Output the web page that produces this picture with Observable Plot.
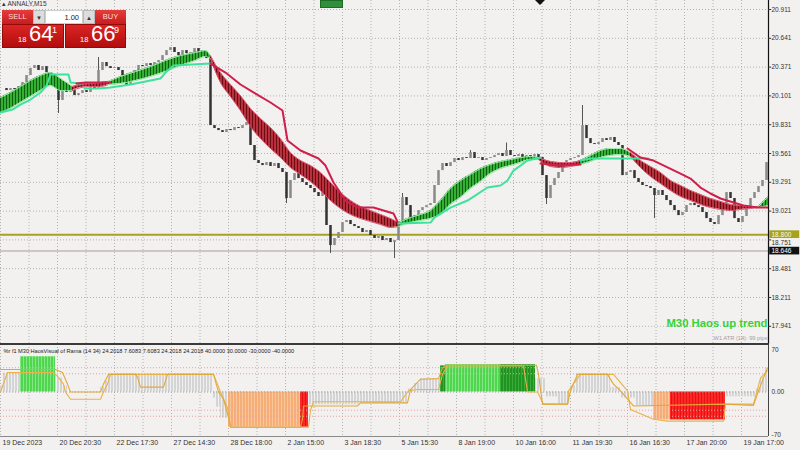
<!DOCTYPE html>
<html><head><meta charset="utf-8">
<script src="https://cdn.jsdelivr.net/npm/d3@7"></script>
<script src="https://cdn.jsdelivr.net/npm/@observablehq/plot@0.6"></script>
<style>
body{margin:0;background:#f3f0f0;font-family:"Liberation Sans",Arial,sans-serif;}
#wrap{position:relative;width:800px;height:450px;overflow:hidden;background:#f3f0f0;}
#main,#osc{position:absolute;left:0;}
#main{top:0}#osc{top:344px}
#sep{position:absolute;left:0;top:343px;width:769px;height:1.5px;background:#3a3a3a;}
#sym{position:absolute;left:2px;top:0px;font-size:6.5px;color:#333;}
#tp{position:absolute;left:2px;top:10px;width:124px;height:38px;}
#tp div,#tp span{position:absolute;box-sizing:border-box;}
.btn{top:0;height:14px;background:linear-gradient(#e53c3c,#c71d1d);color:#ffdcdc;font-size:7.5px;text-align:center;line-height:14px;}
.arr{top:0;height:14px;background:#dcdcdc;color:#333;font-size:6px;text-align:center;line-height:14px;border:1px solid #bbb;}
.inp{top:0;height:14px;background:#fff;color:#222;font-size:7.5px;text-align:right;line-height:14px;padding-right:3px;border:1px solid #ccc;}
.half{top:14px;height:24px;width:61.5px;background:linear-gradient(#dc2424,#b20e0e);border:1px solid #930a0a;}
.sm{font-size:7.5px;color:#fff;line-height:1;top:26px;}
.big{font-size:22px;color:#fff;line-height:1;top:13px;}
.sup{font-size:9px;color:#fff;line-height:1;top:16px;}
</style></head><body>
<svg width="0" height="0" style="position:absolute">
<defs>
<pattern id="bandG" width="3" height="10" patternUnits="userSpaceOnUse"><rect width="3" height="10" fill="#35b035"/><rect width="1" height="10" fill="#0e5e12"/></pattern>
<pattern id="bandR" width="3" height="10" patternUnits="userSpaceOnUse"><rect width="3" height="10" fill="#b8303c"/><rect width="1" height="10" fill="#6a0c14"/></pattern>
<pattern id="hGray" width="3" height="10" patternUnits="userSpaceOnUse"><rect width="3" height="10" fill="#d4d4d4"/><rect x="2" width="1" height="10" fill="#f0f0f0"/></pattern>
<pattern id="hGreen" width="3" height="10" patternUnits="userSpaceOnUse"><rect width="3" height="10" fill="#4fd64f"/><rect x="2" width="1" height="10" fill="#86e686"/></pattern>
<pattern id="hDark" width="3" height="10" patternUnits="userSpaceOnUse"><rect width="3" height="10" fill="#1f951f"/><rect x="2" width="1" height="10" fill="#3caa3c"/></pattern>
<pattern id="hOrange" width="3" height="10" patternUnits="userSpaceOnUse"><rect width="3" height="10" fill="#f6ad76"/><rect x="2" width="1" height="10" fill="#f9c59a"/></pattern>
<pattern id="hRed" width="3" height="10" patternUnits="userSpaceOnUse"><rect width="3" height="10" fill="#ff2626"/><rect x="2" width="1" height="10" fill="#e01414"/></pattern>
</defs></svg>
<div id="wrap">
  <div id="main"></div>
  <div id="osc"></div>
  <div id="sep"></div>
  <div id="sym">▴ ANNALY,M15</div>
  <div style="position:absolute;left:320px;top:0;width:23px;height:8px;background:#2f8f3a;border:1px solid #1d6b27;box-sizing:border-box"></div>
  <div style="position:absolute;left:535px;top:0;width:0;height:0;border-left:5px solid transparent;border-right:5px solid transparent;border-top:5px solid #111"></div>
  <div id="tp">
    <div class="btn" style="left:0;width:31px">SELL</div>
    <div class="arr" style="left:31px;width:12px">▼</div>
    <div class="inp" style="left:43px;width:38px">1.00</div>
    <div class="arr" style="left:81px;width:12px">▲</div>
    <div class="btn" style="left:93px;width:31px">BUY</div>
    <div class="half" style="left:0"></div>
    <div class="half" style="left:62.5px"></div>
    <span class="sm" style="left:16px">18</span>
    <span class="big" style="left:27px">64</span>
    <span class="sup" style="left:50px">1</span>
    <span class="sm" style="left:78px">18</span>
    <span class="big" style="left:89px">66</span>
    <span class="sup" style="left:112px">9</span>
  </div>
</div>
<script>
// ---------- DATA ----------
const closes = [
20.170,20.151,20.170,20.161,20.189,20.226,20.292,20.358,20.386,20.339,20.376,20.320,20.292,20.245,20.058,20.170,
20.133,20.151,20.104,20.123,20.151,20.133,20.198,20.170,20.339,20.414,20.376,20.358,20.367,20.339,20.292,20.198,
20.264,20.339,20.386,20.376,20.404,20.386,20.414,20.433,20.479,20.526,20.554,20.508,20.479,20.526,20.498,20.508,
20.545,20.489,20.479,20.451,19.823,19.795,19.776,19.758,19.786,19.776,19.804,19.795,19.823,19.851,19.636,19.495,
19.467,19.448,19.476,19.439,19.467,19.420,19.383,19.139,19.308,19.373,19.326,19.289,19.261,19.233,19.195,19.158,
19.261,18.886,18.698,18.764,18.820,18.914,18.933,18.895,18.876,18.858,18.820,18.839,18.792,18.764,18.783,18.745,
18.764,18.726,18.745,18.914,19.148,19.073,18.933,18.979,19.026,19.054,19.073,19.092,19.261,19.401,19.467,19.439,
19.476,19.514,19.495,19.523,19.514,19.570,19.514,19.523,19.495,19.514,19.523,19.542,19.561,19.533,19.589,19.542,
19.533,19.551,19.523,19.542,19.533,19.551,19.523,19.354,19.139,19.261,19.326,19.383,19.476,19.495,19.514,19.523,
19.542,19.823,19.701,19.654,19.645,19.664,19.701,19.683,19.711,19.664,19.636,19.354,19.383,19.401,19.326,19.289,
19.261,19.251,19.233,19.167,19.214,19.167,19.120,19.073,19.026,18.979,19.008,19.073,19.092,19.073,19.054,19.008,
18.951,18.914,18.895,18.979,19.073,19.195,19.139,18.951,18.914,18.970,19.045,19.139,19.195,19.251,19.308,19.476];

const wickBar  = [14,24,71,82,98,100,117,126,136,145,155,163];
const wickLow  = [19.936,20.170,19.092,18.623,18.576,18.914,19.514,19.533,19.083,19.542,19.354,18.951];
const wickHigh = [20.245,20.461,19.383,18.886,18.745,19.186,19.589,19.659,19.354,20.011,19.636,19.233];

const bandSeg  = [0,0,0,0,0,0,0,0, 1,1,1,1,1, 2,2,2,2,2,2,2,2,2, 3,3,3,3,3,3,3,3,3,3,3,3,3,3,3,3,3,3,3,3, 4,4,4,4,4,4,4,4,4,4,4,4,4,4,4, 5,5,5,5,5, 6,6,6,6,6,6, 7,7,7,7,7,7,7,7,7,7,7,7,7,7, 8,8,8];
const bandUp   = [true,false,true,false,true,false,true,false,true];
const bandBar  = [0,2.5,5,7.5,10,12.5,15,18, 18,20,22.5,25,27, 27,30,33.75,37.5,41.25,45,48.75,51.25,52.5,
 52.5,55,57.5,60,62.5,65,67.5,70,72.5,75,77.5,80,82.5,85,87.5,90,92.5,95,97.5,99.5,
 99.5,102.5,105,107.5,110,112.5,115,117.5,120,122.5,125,127.5,130,132.5,134.5,
 134.5,137.5,140,142.5,145, 145,147.5,150,152.5,155,157.5,
 157.5,160,162.5,165,167.5,170,172.5,175,177.5,180,182.5,185,187.5,189.5, 189.5,191,192];
const bandHigh = [20.086,20.133,20.189,20.245,20.292,20.320,20.264,20.189, 20.189,20.208,20.217,20.226,20.236,
 20.236,20.283,20.329,20.376,20.433,20.479,20.508,20.526,20.479,
 20.479,20.320,20.208,20.104,19.983,19.889,19.804,19.701,19.570,19.495,19.448,19.383,19.289,19.195,19.120,19.064,19.026,18.989,18.951,18.914,
 18.914,18.961,18.989,19.026,19.120,19.233,19.308,19.364,19.420,19.458,19.486,19.504,19.523,19.533,19.523,
 19.523,19.486,19.476,19.476,19.495, 19.495,19.542,19.589,19.608,19.608,19.570,
 19.570,19.495,19.439,19.383,19.308,19.261,19.214,19.176,19.139,19.111,19.083,19.073,19.064,19.064, 19.064,19.120,19.158];
const bandLow  = [19.945,19.983,20.039,20.095,20.151,20.198,20.151,20.151, 20.151,20.179,20.189,20.189,20.208,
 20.208,20.217,20.245,20.283,20.329,20.386,20.433,20.470,20.451,
 20.451,20.226,20.095,19.964,19.814,19.701,19.608,19.523,19.429,19.364,19.298,19.214,19.120,19.045,18.989,18.951,18.923,18.895,18.867,18.876,
 18.876,18.914,18.933,18.951,18.989,19.083,19.148,19.233,19.298,19.373,19.420,19.448,19.476,19.504,19.504,
 19.504,19.439,19.429,19.439,19.458, 19.458,19.486,19.523,19.542,19.551,19.533,
 19.533,19.429,19.345,19.279,19.214,19.158,19.120,19.083,19.054,19.036,19.026,19.036,19.045,19.054, 19.054,19.064,19.073];

const trendSeg   = [0,0,0,0,0,0,0,0,0,0, 1,1,1, 2,2,2,2,2,2,2,2,2, 3,3,3,3,3,3,3,3,3,3,3,3,3,3,3,3, 4,4,4,4,4,4,4,4,4,4,4, 5,5,5, 6,6,6, 7,7,7,7,7,7,7,7,7,7,7,7];
const trendUp    = [true,false,true,false,true,false,true,false];
const trendBar   = [0,3,5,7.5,10,11.5,12.5,17,17.5,20, 19,21.25,27.5, 21,24.25,27.5,32.5,37.5,40,41.25,43.25,52.5,
 52.5,56.25,60,63.75,67.5,70.5,71.75,75,79.5,81.25,83.25,86.25,89.25,93.25,98.25,99.5,
 99.5,107.5,108.5,112.5,116.75,121.75,125,126.75,128.25,131.75,135, 135,140,145, 145,147.5,162,
 156.75,160,163.25,170,172.5,175,177.5,180,183.25,185.75,189.25,191.75];
const trendPrice = [19.945,19.973,20.020,20.067,20.133,20.198,20.301,20.301,20.226,20.217, 20.217,20.226,20.226,
 20.170,20.170,20.179,20.208,20.245,20.264,20.320,20.386,20.404,
 20.404,20.320,20.208,20.123,20.039,19.964,19.683,19.589,19.514,19.448,19.289,19.120,19.054,19.054,18.998,18.904,
 18.904,18.914,18.961,19.054,19.120,19.242,19.261,19.308,19.401,19.495,19.523, 19.467,19.448,19.458, 19.495,19.514,19.514,
 19.608,19.523,19.495,19.373,19.326,19.242,19.186,19.139,19.101,19.073,19.054,19.054];

const priceTicks = [20.911,20.641,20.371,20.101,19.831,19.561,19.291,19.021,18.751,18.481,18.211,17.941];
const hiddenTick = 18.751;
const levelPrice = 18.800;
const bidPrice = 18.646;
const xLabels = ["19 Dec 2023","20 Dec 20:30","22 Dec 17:30","27 Dec 14:30","28 Dec 18:00","2 Jan 15:00","3 Jan 18:30","5 Jan 15:30","8 Jan 19:00","10 Jan 16:00","11 Jan 19:30","16 Jan 16:30","17 Jan 20:00","19 Jan 17:00"];

const histStart = [0,0.75,5,13.75,14.5,15.75,25,26,27,53,54,55,57,75,77,89.5,101.75,103.25,105,110,111.25,125,133.75,136.25,139.25,142.5,143.75,152.5,155,158.75,163.25,167.5,181.25,188.75,190,191];
const histEnd   = [0.75,5,13.75,14.5,15.75,16.75,26,27,53,54,55,57,75,77,89.5,101.75,103.25,105,110,111.25,125,133.75,136.25,139.25,142.5,143.75,152.5,155,158.75,163.25,167.5,181.25,188.75,190,191,192];
const histValue = [10,31,58,31,23,10,8,18,30,-10,-25,-43,-58,-58,-21,-19,5,14,22,43,45,45,22,-8,-20,10,30,7,-10,-23,-46,-46,-8,5,23,38];
const histKind  = ["gray","gray","green","gray","gray","gray","gray","gray","gray","gray","gray","gray","orange","red","gray","gray","gray","gray","gray","dark","green","dark","gray","gray","gray","gray","gray","gray","gray","gray","orange","red","gray","gray","gray","gray"];

const line1Bar = [0,13.75,15.5,16.75,17.5,25,25.75,27,33.75,34.25,35,40.75,41.75,53.25,54.5,55.75,57,57.5,75,75.5,75.75,89.25,90,101.75,102.5,105,109.5,110.5,111.75,134,134.5,135.5,141.75,142.5,144.25,151.75,153.25,155,158.25,180.75,188.25,189.5,191.75];
const line1Val = [37,37,32,13,0,0,13,29,29,24,8,8,29,29,0,-12,-42,-58,-58,-45,-23,-23,-18,-18,4,21,22,40,44,44,29,-20,-20,2,29,29,13,2,-23,-20,-22,2,40];
const line2Bar = [0,1.75,13.25,14.5,15.75,16.25,17.5,25,25.75,26.75,27.5,53.25,54.25,55,56.75,57.5,77,77.5,78.25,100,102,104.25,109.5,110.5,111.75,130.75,131.75,134.25,135.75,141.75,142,145,153.25,156.75,157.5,163.25,166.75,180.75,181.25,188.25,190,191.75];
const line2Val = [0,32,32,24,13,0,-12,-12,0,13,29,29,13,0,-26,-58,-58,-30,-16,-16,2,4,4,29,43,43,0,0,-20,-20,2,29,29,2,-29,-45,-48,-48,-20,-20,23,35];

const oscLevels = [40,30,-30,-40];
const oscTicks = [70,0,-70];
const oscTitle = "%r f1 M30 HaosVisual of Rama (14 34) 24.2018 7.6083 7.6083 24.2018 24.2018 40.0000 30.0000 -30.0000 -40.0000";
const trendText = "M30 Haos up trend";
const atrText = "W1 ATR (14): 99 pips";

// ---------- DERIVED TABLES ----------
const candles = closes.map((c, i) => ({x: i + 0.5, o: i ? closes[i - 1] : c, c}));
const wicks = wickBar.map((b, k) => ({x: b + 0.5, lo: wickLow[k], hi: wickHigh[k]}));
const band = bandBar.map((b, k) => ({x: b, hi: bandHigh[k], lo: bandLow[k], seg: bandSeg[k], up: bandUp[bandSeg[k]]}));
const trend = trendBar.map((b, k) => ({x: b, y: trendPrice[k], seg: trendSeg[k], up: trendUp[trendSeg[k]]}));
const hist = histStart.map((s, k) => ({s, e: histEnd[k], v: histValue[k], k: histKind[k]}));
const gold1 = line1Bar.map((b, k) => ({x: b, y: line1Val[k]}));
const gold2 = line2Bar.map((b, k) => ({x: b, y: line2Val[k]}));
const gridBars = d3.range(0, 27).map(k => k * 7.125);
const labelBars = xLabels.map((_, k) => k * 14.25);

const font = "Liberation Sans, Arial, sans-serif";
const X = {domain: [0, 192], axis: null};
const GRID = "#b2b2b2";

const main = Plot.plot({
  width: 800, height: 344, marginTop: 0, marginBottom: 0, marginLeft: 0, marginRight: 32,
  x: X, y: {domain: [17.7704, 20.9954], axis: null},
  style: {background: "transparent", fontFamily: font, overflow: "visible"},
  marks: [
    Plot.ruleX(gridBars, {stroke: GRID, strokeDasharray: "1,2"}),
    Plot.ruleY(priceTicks, {x1: 0, x2: 192, stroke: GRID, strokeDasharray: "1,2"}),
    Plot.ruleY([bidPrice], {x1: 0, x2: 192, stroke: "#ccc6cc", strokeWidth: 2}),
    Plot.ruleY([levelPrice], {x1: 0, x2: 192, stroke: "#a7a222", strokeWidth: 2}),
    Plot.ruleX(wicks, {x: "x", y1: "lo", y2: "hi", stroke: "#555", strokeWidth: 1}),
    Plot.ruleX(candles, {x: "x", y1: "o", y2: "c", stroke: d => d.c >= d.o ? "#8a8a8a" : "#333333", strokeWidth: 2.5}),
    Plot.areaY(band.filter(d => d.up), {x: "x", y1: "lo", y2: "hi", z: "seg", fill: "url(#bandG)", curve: "monotone-x"}),
    Plot.areaY(band.filter(d => !d.up), {x: "x", y1: "lo", y2: "hi", z: "seg", fill: "url(#bandR)", curve: "monotone-x"}),
    Plot.line(band, {x: "x", y: "hi", z: "seg", stroke: d => d.up ? "#a4f0b8" : "#e3687f", strokeWidth: 1, curve: "monotone-x"}),
    Plot.line(band, {x: "x", y: "lo", z: "seg", stroke: d => d.up ? "#7ee89c" : "#d9506c", strokeWidth: 1, curve: "monotone-x"}),
    Plot.line(trend, {x: "x", y: "y", z: "seg", stroke: d => d.up ? "#3fe29c" : "#cf1f4a", strokeWidth: 2}),
    Plot.ruleX([192], {stroke: "#111", strokeWidth: 1.2}),
    Plot.ruleY(priceTicks, {x1: 192, x2: 192.8, stroke: "#333"}),
    Plot.text(priceTicks.filter(d => d !== hiddenTick), {x: 192, y: d => d, dx: 3, text: d => d.toFixed(3), textAnchor: "start", fill: "#333", fontSize: 6.5}),
    Plot.text([hiddenTick], {x: 192, y: d => d, dx: 3, dy: 3, text: d => d.toFixed(3), textAnchor: "start", fill: "#333", fontSize: 6.5}),
    Plot.rect([levelPrice], {x1: 192.3, x2: 199.8, y1: d => d - 0.036, y2: d => d + 0.036, fill: "#a6a21e"}),
    Plot.text([levelPrice], {x: 192, y: d => d, dx: 3, text: d => d.toFixed(3), textAnchor: "start", fill: "#fbfbe8", fontSize: 6.5}),
    Plot.rect([bidPrice], {x1: 192.3, x2: 199.8, y1: d => d - 0.036, y2: d => d + 0.036, fill: "#111"}),
    Plot.text([bidPrice], {x: 192, y: d => d, dx: 3, text: d => d.toFixed(3), textAnchor: "start", fill: "#fff", fontSize: 6.5}),
    Plot.text([trendText], {frameAnchor: "bottom-right", dx: -1, dy: -18, textAnchor: "end", fill: "#36d336", fontSize: 11.3, fontWeight: "bold"}),
    Plot.text([atrText], {frameAnchor: "bottom-right", dx: -1, dy: -5, textAnchor: "end", fill: "#a0a0a0", fontSize: 5.7})
  ]
});
document.getElementById("main").append(main);

const patterns = {gray: "hGray", green: "hGreen", dark: "hDark", orange: "hOrange", red: "hRed"};
const osc = Plot.plot({
  width: 800, height: 106, marginTop: 0, marginBottom: 14, marginLeft: 0, marginRight: 32,
  x: X, y: {domain: [-73.3, 78.2], axis: null},
  style: {background: "transparent", fontFamily: font, overflow: "visible"},
  marks: [
    Plot.ruleX(gridBars, {stroke: GRID, strokeDasharray: "1,2"}),
    ...Object.keys(patterns).map(k =>
      Plot.rectY(hist.filter(d => d.k === k), {x1: "s", x2: "e", y1: 0, y2: "v", fill: `url(#${patterns[k]})`})),
    Plot.ruleY([0], {x1: 0, x2: 192, stroke: "#9a9a9a", strokeDasharray: "1,2"}),
    Plot.ruleY(oscLevels, {x1: 0, x2: 192, stroke: "#e6a2a2", strokeDasharray: "1,2"}),
    Plot.line(gold2, {x: "x", y: "y", stroke: "#e9b24a", strokeWidth: 1.1}),
    Plot.line(gold1, {x: "x", y: "y", stroke: "#e0a93c", strokeWidth: 1.1}),
    Plot.ruleX([192], {stroke: "#444", strokeWidth: 1}),
    Plot.ruleY([-73.3], {x1: 0, x2: 192, stroke: "#8a8a8a", strokeWidth: 1}),
    Plot.text(oscTicks, {x: 192, y: d => d, dx: 3, text: d => d === 0 ? "0.00" : String(d), textAnchor: "start", fill: "#333", fontSize: 6.5}),
    Plot.text([oscTitle], {frameAnchor: "top-left", dx: 3, dy: 5, textAnchor: "start", fill: "#222", fontSize: 5.6}),
    Plot.text(xLabels, {x: (d, i) => labelBars[i], y: -73.3, dx: 2, dy: 6, textAnchor: "start", fill: "#333", fontSize: 7})
  ]
});
document.getElementById("osc").append(osc);
</script>
</body></html>
